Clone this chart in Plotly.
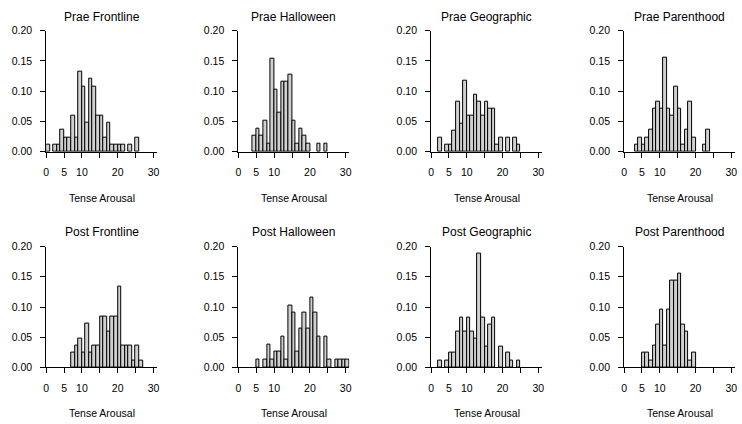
import plotly.graph_objects as go

# ---- data (density per bin of width 1, first bin starts at 0) ----
panel_titles = ["Prae Frontline", "Prae Halloween", "Prae Geographic", "Prae Parenthood",
                "Post Frontline", "Post Halloween", "Post Geographic", "Post Parenthood"]

prae_frontline = [0.012, 0, 0.012, 0.012, 0.036, 0.024, 0.024, 0.060, 0.024, 0.133,
                  0.108, 0.048, 0.120, 0.108, 0.060, 0.060, 0.024, 0.048, 0.012, 0.012,
                  0.012, 0.012, 0, 0.012, 0, 0.024]
prae_halloween = [0, 0, 0, 0, 0.026, 0.038, 0.026, 0.051, 0.013, 0.154,
                  0.103, 0.064, 0.115, 0.115, 0.128, 0.051, 0.013, 0.038, 0.026, 0.013,
                  0, 0, 0.013, 0, 0.013]
prae_geographic = [0, 0, 0.024, 0, 0.012, 0.012, 0.035, 0.082, 0.047, 0.118,
                   0.059, 0.059, 0.094, 0.082, 0.059, 0.082, 0.071, 0.071, 0.012, 0.024,
                   0, 0.024, 0, 0.024, 0.012]
prae_parenthood = [0, 0, 0, 0.012, 0.024, 0.012, 0.024, 0.036, 0.071, 0.083,
                   0.071, 0.155, 0.071, 0.060, 0.107, 0.071, 0.012, 0.036, 0.083, 0.024,
                   0, 0, 0.012, 0.036]
post_frontline = [0, 0, 0, 0, 0, 0, 0, 0.024, 0.036, 0.048,
                  0.024, 0.072, 0.024, 0.036, 0.036, 0.084, 0.084, 0.060, 0.084, 0.084,
                  0.133, 0.036, 0.036, 0.036, 0.012, 0.036, 0.012]
post_halloween = [0, 0, 0, 0, 0, 0.013, 0, 0.013, 0.038, 0.013,
                  0.026, 0.026, 0.051, 0.013, 0.103, 0.090, 0.026, 0.064, 0.090, 0.064,
                  0.115, 0.090, 0.051, 0, 0.051, 0.013, 0, 0.013, 0.013, 0.013, 0.013]
post_geographic = [0, 0, 0.012, 0, 0.012, 0.024, 0.024, 0.059, 0.082, 0.059,
                   0.082, 0.059, 0.047, 0.188, 0.082, 0.035, 0.071, 0.082, 0, 0.035,
                   0, 0.024, 0.012, 0, 0.012]
post_parenthood = [0, 0, 0, 0, 0, 0.024, 0.024, 0.012, 0.036, 0.071,
                   0.095, 0.036, 0.095, 0.143, 0.143, 0.155, 0.071, 0.060, 0.012, 0.024]

panel_data = [prae_frontline, prae_halloween, prae_geographic, prae_parenthood,
              post_frontline, post_halloween, post_geographic, post_parenthood]

x_tick_vals = [0, 5, 10, 15, 20, 25, 30]
x_tick_text = ["0", "5", "10", "", "20", "", "30"]
y_tick_vals = [0, 0.05, 0.10, 0.15, 0.20]
x_label = "Tense Arousal"

# ---- layout (pixels) ----
W, H = 742, 424
FONT = "Liberation Sans, Arial, Helvetica, sans-serif"
col_x0 = [43.5, 237.0, 431.0, 625.3]
unit_px = 3.6
x_max = 31
row_top = [25.4, 247.6]
row_bot = [150.0, 372.0]
title_y = [11.0, 232.7]
xlab_y = [197.3, 419.0]

fig = go.Figure()
annotations = []
for i, (title, dens) in enumerate(zip(panel_titles, panel_data)):
    r, c = divmod(i, 4)
    k = "" if i == 0 else str(i + 1)
    xs = [b + 0.5 for b, d in enumerate(dens) if d > 0]
    ys = [d for d in dens if d > 0]
    fig.add_trace(go.Bar(
        x=xs, y=ys, width=1.0,
        marker=dict(color="#d0d0d0", line=dict(color="#000000", width=1)),
        xaxis="x" + k, yaxis="y" + k, showlegend=False, hoverinfo="x+y",
    ))
    x0 = col_x0[c]
    x1 = x0 + x_max * unit_px
    dom_x = [x0 / W, x1 / W]
    dom_y = [1 - row_bot[r] / H, 1 - row_top[r] / H]
    fig.layout["xaxis" + k] = dict(
        domain=dom_x, anchor="y" + k, range=[0, x_max],
        tickvals=x_tick_vals, ticktext=x_tick_text,
        showline=True, linecolor="black", linewidth=1,
        ticks="outside", ticklen=5, tickcolor="black", tickwidth=1,
        showgrid=False, zeroline=False, fixedrange=True,
        tickfont=dict(family=FONT, size=10.5, color="black"),
        ticklabelstandoff=6,
    )
    fig.layout["yaxis" + k] = dict(
        domain=dom_y, anchor="x" + k, range=[0, 0.20],
        tickvals=y_tick_vals, tickformat=".2f",
        showline=True, linecolor="black", linewidth=1,
        ticks="outside", ticklen=5, tickcolor="black", tickwidth=1,
        showgrid=False, zeroline=False, fixedrange=True,
        tickfont=dict(family=FONT, size=10.5, color="black"),
        ticklabelstandoff=6,
    )
    cx = (x0 + x1) / 2 / W
    annotations.append(dict(
        text=title, x=cx, y=1 - title_y[r] / H, xref="paper", yref="paper",
        xanchor="center", yanchor="middle", showarrow=False,
        font=dict(family=FONT, size=12, color="black"),
    ))
    annotations.append(dict(
        text=x_label, x=cx, y=1 - xlab_y[r] / H, xref="paper", yref="paper",
        xanchor="center", yanchor="middle", showarrow=False,
        font=dict(family=FONT, size=10.5, color="black"),
    ))

fig.update_layout(
    width=W, height=H, margin=dict(l=0, r=0, t=0, b=0),
    paper_bgcolor="white", plot_bgcolor="white",
    bargap=0, annotations=annotations,
)
fig.write_html(
    "out.html",
    config={"displayModeBar": False},
    post_script="document.body.style.margin='0';document.body.style.padding='0';"
                "document.body.style.overflow='hidden';",
)
